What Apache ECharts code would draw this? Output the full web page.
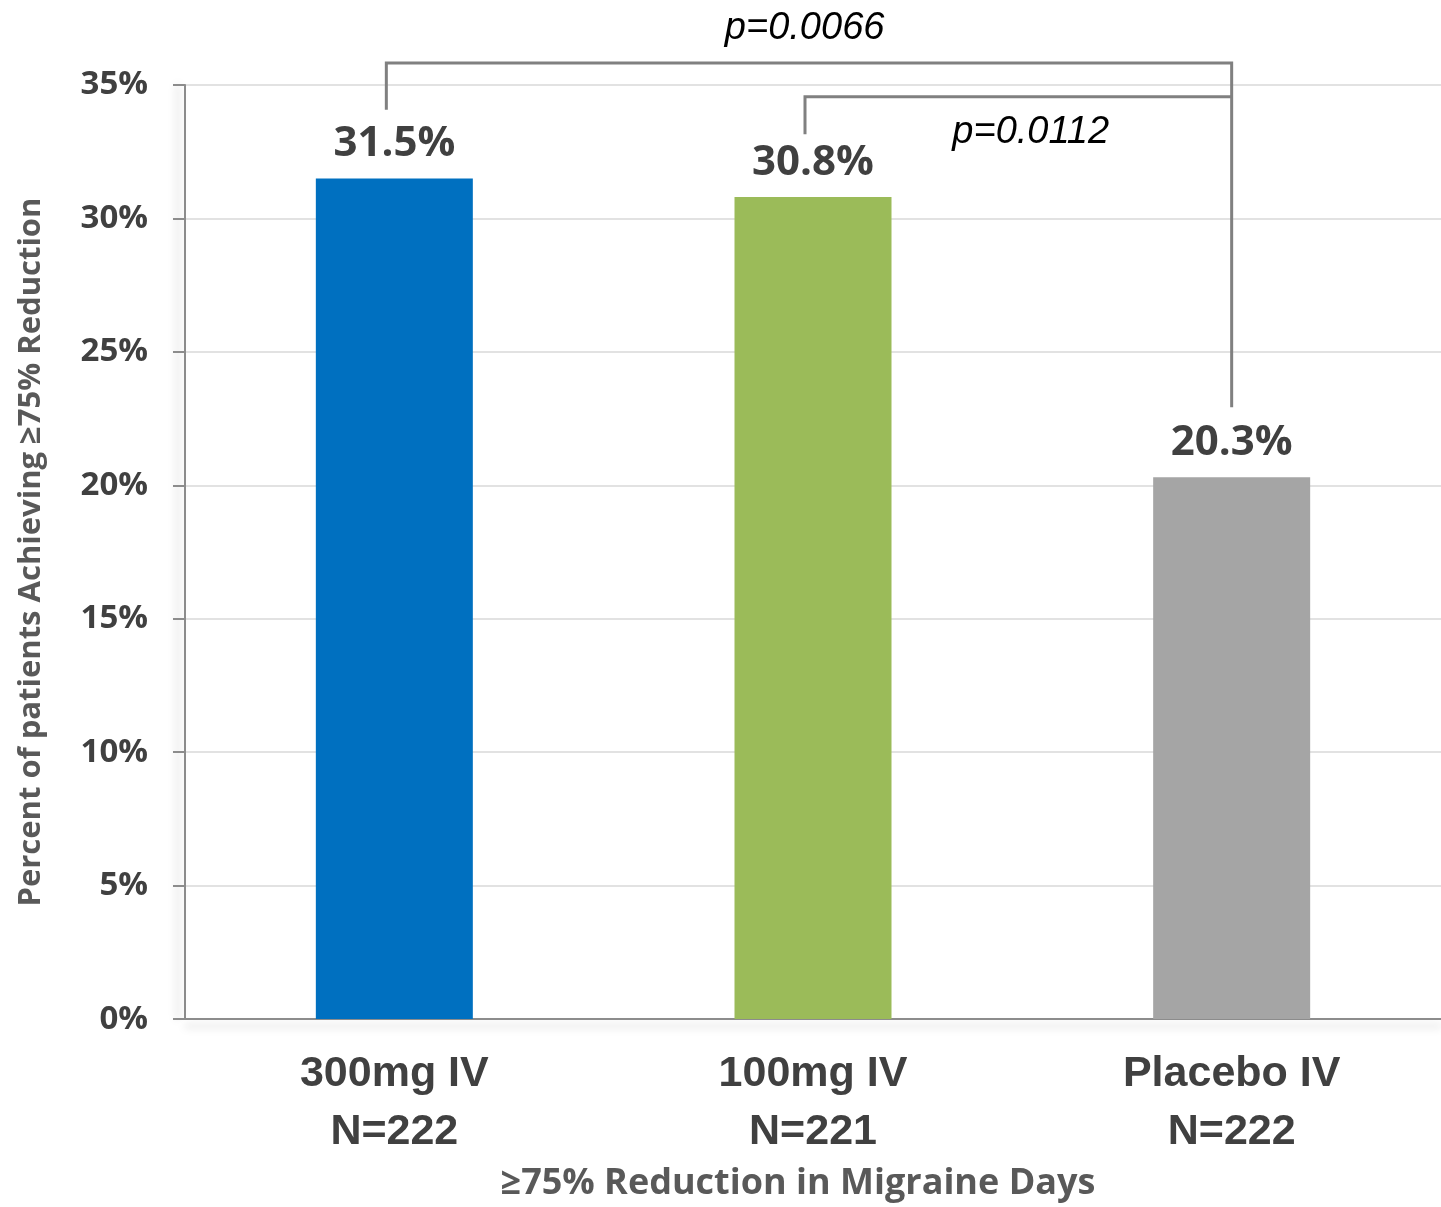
<!DOCTYPE html>
<html>
<head>
<meta charset="utf-8">
<script src="https://cdn.jsdelivr.net/npm/echarts@6/dist/echarts.min.js"></script>
<style>
html,body{margin:0;padding:0;background:#fff;overflow:hidden;}
#chart{width:1441px;height:1207px;}
</style>
</head>
<body>
<div id="chart"></div>
<script>
const categories = ['300mg IV\nN=222', '100mg IV\nN=221', 'Placebo IV\nN=222'];
const values = [31.5, 30.8, 20.3];
const barColors = ['#0070C0', '#9BBB59', '#A5A5A5'];
const yTicks = [0, 5, 10, 15, 20, 25, 30, 35];
// brackets: [leftCategory, rightCategory, leftEndY, topY, rightEndY, label, labelX(category position), labelY]
const brackets = [
  [0, 2, 34.07, 35.82, 22.93, 'p=0.0066', 0.98, 37.12],
  [1, 2, 33.15, 34.56, 34.56, 'p=0.0112', 1.52, 33.22]
];

const chart = echarts.init(document.getElementById('chart'));
chart.setOption({
  animation: false,
  grid: { left: 185, top: 85, width: 1265, height: 942, containLabel: false },
  xAxis: {
    type: 'category',
    data: categories,
    axisLine: { lineStyle: { color: '#8c8c8c', width: 2, shadowColor: 'rgba(0,0,0,0.22)', shadowBlur: 8, shadowOffsetY: 7 } },
    axisTick: { show: false },
    axisLabel: {
      color: '#404040', fontFamily: 'Liberation Sans, Arial', fontWeight: 'bold',
      fontSize: 43, lineHeight: 58, margin: 26
    },
    name: '≥75% Reduction in Migraine Days',
    nameLocation: 'middle',
    nameGap: 146,
    nameTextStyle: { color: '#595959', fontFamily: 'Open Sans', fontWeight: 'bold', fontSize: 36, padding: [0, 30, 0, 0] }
  },
  yAxis: {
    type: 'value', min: 0, max: 35, interval: 5,
    axisLine: { show: true, lineStyle: { color: '#8c8c8c', width: 2, shadowColor: 'rgba(0,0,0,0.22)', shadowBlur: 8, shadowOffsetX: -7 } },
    axisTick: { show: true, length: 12, lineStyle: { color: '#8c8c8c', width: 2 } },
    splitLine: { lineStyle: { color: '#d9d9d9', width: 1.5 } },
    axisLabel: {
      color: '#404040', fontFamily: 'Open Sans', fontWeight: 'bold', fontSize: 33, margin: 37,
      formatter: v => yTicks.includes(v) ? v + '%' : ''
    },
    name: 'Percent of patients Achieving ≥75% Reduction',
    nameLocation: 'middle',
    nameGap: 138,
    nameTextStyle: { color: '#595959', fontFamily: 'Open Sans', fontWeight: 'bold', fontSize: 31 }
  },
  series: [
    {
      type: 'bar',
      barWidth: 157,
      data: values.map((v, i) => ({ value: v, itemStyle: { color: barColors[i] } })),
      label: {
        show: true, position: 'top', distance: 13,
        formatter: p => p.value.toFixed(1) + '%',
        color: '#404040', fontFamily: 'Open Sans', fontWeight: 'bold', fontSize: 42
      }
    },
    {
      type: 'custom',
      clip: false,
      silent: true,
      z: 10,
      data: brackets.map((b, i) => i),
      renderItem: function (params, api) {
        const b = brackets[params.dataIndex];
        const l0 = api.coord([b[0], b[2]]);
        const lt = api.coord([b[0], b[3]]);
        const rt = api.coord([b[1], b[3]]);
        const r0 = api.coord([b[1], b[4]]);
        const lo = Math.floor(b[6]);
        const frac = b[6] - lo;
        const pa = api.coord([lo, b[7]]);
        const pb = api.coord([lo + 1, b[7]]);
        const lx = pa[0] + (pb[0] - pa[0]) * frac;
        const off = -8;
        return {
          type: 'group',
          children: [
            {
              type: 'polyline',
              shape: { points: [[l0[0] + off, l0[1]], [lt[0] + off, lt[1]], [rt[0], rt[1]], [r0[0], r0[1]]] },
              style: { stroke: '#808080', lineWidth: 3, fill: null }
            },
            {
              type: 'text',
              x: lx, y: pa[1],
              style: {
                text: b[5], fill: '#000', fontFamily: 'Liberation Sans, Arial', fontStyle: 'italic',
                fontSize: 38, align: 'center', verticalAlign: 'middle'
              }
            }
          ]
        };
      }
    }
  ]
});
</script>
</body>
</html>
